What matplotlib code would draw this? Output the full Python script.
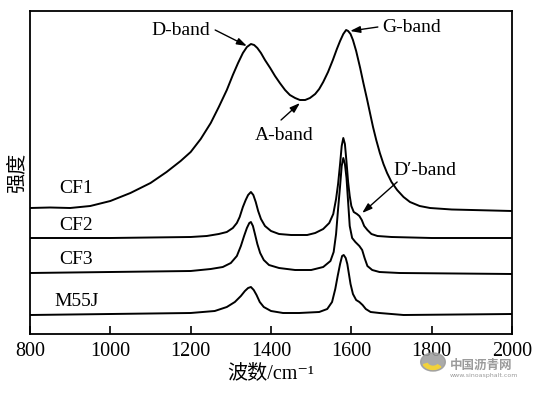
import matplotlib
matplotlib.use('Agg')
import matplotlib.pyplot as plt
from matplotlib.patches import Circle, Wedge

plt.rcParams['font.family'] = ['Liberation Serif', 'Noto Sans CJK SC', 'DejaVu Sans']

# Raman spectra (wavenumber, displayed intensity with offset)
cf1_w = [800, 850, 900, 950, 1000, 1050, 1100, 1140, 1175, 1200, 1225, 1250, 1270, 1290,
         1305, 1318, 1330, 1340, 1350, 1358, 1366, 1375, 1385, 1398, 1410, 1422, 1435,
         1447, 1460, 1472, 1485, 1497, 1510, 1520, 1530, 1542, 1554, 1564, 1572, 1580,
         1587, 1592, 1598, 1604, 1612, 1622, 1630, 1639, 1647, 1654, 1662, 1671, 1680,
         1689, 1700, 1714, 1730, 1746, 1770, 1796, 1850, 1900, 2000]
cf1_i = [126, 126.5, 126, 128, 133, 141, 151, 162, 173, 182, 195, 211, 227, 244,
         259, 271, 281, 287, 290, 289, 286, 281, 274, 266, 258, 251, 244,
         239, 236, 234, 234, 236, 240, 245, 252, 262, 274, 285, 293, 300,
         304, 303, 300, 294, 283, 266, 251, 235, 220, 207, 194, 181, 170,
         161, 152, 144, 137, 132, 128, 126, 124.5, 124, 123]

cf2_w = [800, 1000, 1200, 1240, 1270, 1290, 1305, 1315, 1322, 1330, 1337, 1343, 1350,
         1356, 1362, 1368, 1375, 1385, 1400, 1420, 1450, 1490, 1510, 1530, 1545, 1555,
         1562, 1567, 1572, 1576, 1580, 1584, 1588, 1592, 1596, 1600, 1606, 1614, 1620,
         1626, 1632, 1640, 1650, 1665, 1700, 1800, 2000]
cf2_i = [96, 96, 97, 98, 100, 102, 106, 111, 117, 127, 134, 139, 142,
         139, 132, 123, 115, 108, 103, 100, 99, 99, 101, 105, 111, 120,
         135, 150, 170, 188, 196, 190, 172, 152, 138, 128, 122, 120, 118,
         114, 108, 104, 100, 98, 97, 96, 96]

cf3_w = [800, 1000, 1200, 1250, 1280, 1300, 1315, 1325, 1333, 1340, 1346, 1350, 1355,
         1360, 1366, 1373, 1382, 1395, 1420, 1460, 1500, 1530, 1548, 1556, 1562, 1567,
         1572, 1576, 1580, 1584, 1588, 1592, 1596, 1602, 1610, 1620, 1627, 1633, 1640,
         1652, 1670, 1720, 2000]
cf3_i = [61, 62, 63, 65, 67, 71, 78, 88, 98, 106, 111, 112, 108,
         100, 90, 81, 74, 69, 66, 64, 64, 67, 73, 82, 100, 125,
         148, 168, 176, 170, 156, 132, 108, 96, 92, 88, 84, 76, 68,
         64, 62, 61, 60]

m55j_w = [800, 1000, 1200, 1260, 1290, 1310, 1325, 1335, 1343, 1350, 1357, 1364, 1372,
          1382, 1400, 1430, 1470, 1520, 1540, 1552, 1560, 1566, 1572, 1577, 1581, 1586,
          1590, 1594, 1598, 1604, 1612, 1620, 1628, 1636, 1648, 1670, 1730, 2000]
m55j_i = [19, 20, 21, 23, 27, 32, 38, 43, 46, 47, 44, 39, 32,
          27, 23, 21, 21, 22, 25, 32, 45, 58, 70, 78, 79, 76,
          70, 60, 50, 40, 34, 32, 29, 25, 22, 21, 19, 20]

sample_names = ['CF1', 'CF2', 'CF3', 'M55J']
sample_label_y = [146, 109, 74, 32]

# band annotations: text, text position, arrow tail, arrow head
bands = ['D-band', 'G-band', 'A-band', 'D\u2032-band']
band_text_xy = [(1176, 304), (1751, 307), (1432, 199), (1783, 164)]
band_tail_xy = [(1261, 304), (1666, 307), (1425, 214), (1714, 152)]
band_head_xy = [(1340, 288), (1597, 303), (1472, 231), (1627, 121)]

fig = plt.figure(figsize=(5.36, 3.93), dpi=100)
ax = fig.add_axes([30 / 536, 1 - 334 / 393, 482 / 536, 323 / 393])

for w, inten in [(cf1_w, cf1_i), (cf2_w, cf2_i), (cf3_w, cf3_i), (m55j_w, m55j_i)]:
    ax.plot(w, inten, color='black', lw=1.4, solid_joinstyle='round')

for name, y in zip(sample_names, sample_label_y):
    ax.text(915, y, name, ha='center', va='center', fontsize=14)

for txt, t, tail, head in zip(bands, band_text_xy, band_tail_xy, band_head_xy):
    ax.text(t[0], t[1], txt, ha='center', va='center', fontsize=14)
    ax.annotate('', xy=head, xytext=tail,
                arrowprops=dict(arrowstyle='-|>,head_length=0.6,head_width=0.2',
                                color='black', lw=1.0, shrinkA=0, shrinkB=0))

ax.set_xlim(800, 2000)
ax.set_ylim(0, 323)
ax.set_xticks([800, 1000, 1200, 1400, 1600, 1800, 2000])
ax.set_yticks([])
ax.tick_params(axis='x', direction='in', length=6, width=1.2, labelsize=14.5, pad=6)
for s in ax.spines.values():
    s.set_linewidth(1.3)

ax.set_xlabel('波数/cm\u207b\u00b9', fontsize=14.5, labelpad=2)
ax.set_ylabel('强度', fontsize=14.5, labelpad=2)

# watermark in the lower right corner
fig.patches.append(Circle((433 / 536, 1 - 362 / 393), 0.023, transform=fig.transFigure,
                          color='#9b9b9b', alpha=0.85))
fig.patches.append(Wedge((433 / 536, 1 - 362 / 393), 0.019, 200, 320, width=0.008,
                         transform=fig.transFigure, color='#f2d23a'))
fig.text(450 / 536, 1 - 365 / 393, '中国沥青网', fontsize=9, color='#9b9b9b',
         family='Noto Sans CJK SC', va='center', ha='left', fontweight='bold')
fig.text(450 / 536, 1 - 375 / 393, 'www.sinoasphalt.com', fontsize=4.5, color='#9b9b9b',
         family='DejaVu Sans', va='center', ha='left')

fig.savefig('out.png', dpi=100)
